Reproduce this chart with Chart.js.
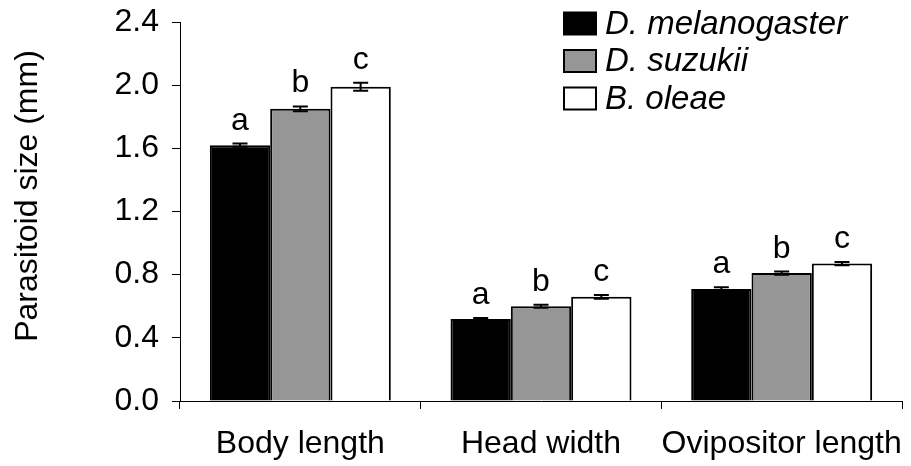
<!DOCTYPE html>
<html>
<head>
<meta charset="utf-8">
<script src="https://cdn.jsdelivr.net/npm/chart.js@4/dist/chart.umd.min.js"></script>
<style>
  html, body { margin: 0; padding: 0; background: #fff; }
  #wrap { width: 911px; height: 466px; }
</style>
</head>
<body>
<div id="wrap"><canvas id="chart" width="911" height="466"></canvas></div>
<script>
// Parasitoid size measured on three host species (mean ± SE, mm)
const categories = ['Body length', 'Head width', 'Ovipositor length'];
const seriesNames = ['D. melanogaster', 'D. suzukii', 'B. oleae'];

const melanogasterMean = [1.62, 0.52, 0.71];
const suzukiiMean      = [1.85, 0.60, 0.81];
const oleaeMean        = [1.99, 0.66, 0.87];

const melanogasterSE = [0.010, 0.005, 0.010];
const suzukiiSE      = [0.015, 0.010, 0.010];
const oleaeSE        = [0.025, 0.012, 0.010];

// Significance letters (Tukey groups) per measurement
const melanogasterLetters = ['a', 'a', 'a'];
const suzukiiLetters      = ['b', 'b', 'b'];
const oleaeLetters        = ['c', 'c', 'c'];

const yTicks = [0.0, 0.4, 0.8, 1.2, 1.6, 2.0, 2.4];

const FONT = "'Liberation Sans', Arial, Helvetica, sans-serif";

// Error bars with caps, plus the group letters above them
const errorBarPlugin = {
  id: 'errorBars',
  afterDatasetsDraw(chart) {
    const ctx = chart.ctx;
    const y = chart.scales.y;
    chart.data.datasets.forEach((ds, i) => {
      const meta = chart.getDatasetMeta(i);
      meta.data.forEach((bar, j) => {
        const v = ds.data[j], e = ds.errors[j];
        const yt = y.getPixelForValue(v + e);
        const yb = y.getPixelForValue(v - e);
        const cap = 7.5;
        ctx.save();
        ctx.strokeStyle = '#000';
        ctx.lineWidth = 2;
        ctx.beginPath();
        ctx.moveTo(bar.x, yt); ctx.lineTo(bar.x, yb);
        ctx.moveTo(bar.x - cap, yt); ctx.lineTo(bar.x + cap, yt);
        ctx.moveTo(bar.x - cap, yb); ctx.lineTo(bar.x + cap, yb);
        ctx.stroke();
        ctx.fillStyle = '#000';
        ctx.font = '32px ' + FONT;
        ctx.textAlign = 'center';
        ctx.textBaseline = 'alphabetic';
        ctx.fillText(ds.letters[j], bar.x, yt - 14);
        ctx.restore();
      });
    });
  }
};

// Boxed legend in the upper right, and the rotated y-axis title
const decorPlugin = {
  id: 'decor',
  afterDraw(chart) {
    const ctx = chart.ctx;
    ctx.save();
    chart.data.datasets.forEach((ds, i) => {
      const yc = 23.5 + 37.5 * i;
      ctx.fillStyle = ds.backgroundColor;
      ctx.fillRect(564, yc - 11, 32, 22);
      ctx.strokeStyle = '#000';
      ctx.lineWidth = 2;
      ctx.strokeRect(564, yc - 11, 32, 22);
      ctx.fillStyle = '#000';
      ctx.font = 'italic 33px ' + FONT;
      ctx.textAlign = 'left';
      ctx.textBaseline = 'middle';
      ctx.fillText(ds.label, 605, yc + 1);
    });
    ctx.translate(28, 196);
    ctx.rotate(-Math.PI / 2);
    ctx.font = '32px ' + FONT;
    ctx.textAlign = 'center';
    ctx.textBaseline = 'middle';
    ctx.fillText('Parasitoid size (mm)', 0, 0);
    ctx.restore();
  }
};

const fills = ['#000000', '#969696', '#ffffff'];
const means = [melanogasterMean, suzukiiMean, oleaeMean];
const errs = [melanogasterSE, suzukiiSE, oleaeSE];
const letters = [melanogasterLetters, suzukiiLetters, oleaeLetters];

new Chart(document.getElementById('chart'), {
  type: 'bar',
  data: {
    labels: categories,
    datasets: seriesNames.map((name, i) => ({
      label: name,
      data: means[i],
      errors: errs[i],
      letters: letters[i],
      backgroundColor: fills[i],
      borderColor: '#000',
      borderWidth: 2,
      categoryPercentage: 0.752,
      barPercentage: 1.0
    }))
  },
  options: {
    responsive: false,
    devicePixelRatio: 1,
    animation: false,
    layout: { padding: { top: 22, right: 9, left: 0, bottom: 0 } },
    plugins: { legend: { display: false }, tooltip: { enabled: false } },
    scales: {
      x: {
        grid: { offset: true, drawOnChartArea: false, tickLength: 8, color: '#000', lineWidth: 1 },
        border: { color: '#000', width: 1 },
        ticks: { color: '#000', font: { family: FONT, size: 32 }, padding: 16, maxRotation: 0, autoSkip: false },
        afterFit(scale) {
          scale.height = 65;
          scale.paddingLeft = 0;
          scale.paddingRight = 0;
        }
      },
      y: {
        min: 0, max: 2.4,
        afterBuildTicks(scale) { scale.ticks = yTicks.map(v => ({ value: v })); },
        grid: { drawOnChartArea: false, tickLength: 8, color: '#000', lineWidth: 1 },
        border: { color: '#000', width: 1 },
        ticks: { color: '#000', font: { family: FONT, size: 32 }, padding: 13,
                 callback: v => Number(v).toFixed(1) },
        afterFit(scale) {
          scale.width = 180;
          scale.paddingTop = 0;
          scale.paddingBottom = 0;
        }
      }
    }
  },
  plugins: [errorBarPlugin, decorPlugin]
});
</script>
</body>
</html>
